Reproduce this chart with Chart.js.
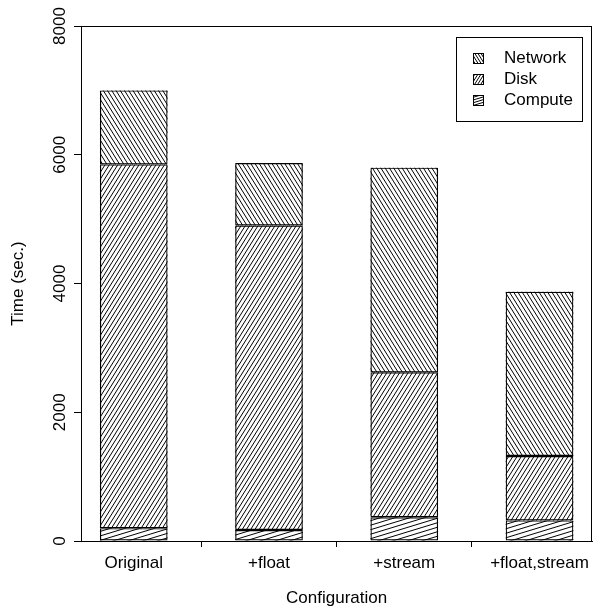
<!DOCTYPE html>
<html><head><meta charset="utf-8">
<script src="https://cdn.jsdelivr.net/npm/chart.js@4"></script>
<style>html,body{margin:0;padding:0;background:#fff}#wrap{width:595px;height:612px}</style>
</head><body><div id="wrap"><canvas id="c" width="595" height="612"></canvas></div>
<script>
// ---- data ----
const categories = ['Original', '+float', '+stream', '+float,stream'];
const compute = [200, 170, 370, 320];
const disk = [5650, 4730, 2250, 1000];
const network = [1150, 970, 3180, 2550];
const yTicks = [0, 2000, 4000, 6000, 8000];
const seriesNames = ['Compute', 'Disk', 'Network'];

// ---- styles ----
const FONT = { family: '"Liberation Sans", Arial, Helvetica, sans-serif', size: 17 };
const hatchStyles = [
  { angle: 17, spacing: 4.3 },   // Compute
  { angle: 58, spacing: 3.6 },   // Disk
  { angle: 122, spacing: 3.6 }   // Network
];

function hatchRect(ctx, x0, y0, x1, y1, angleDeg, spacing) {
  const a = angleDeg * Math.PI / 180;
  const dx = Math.cos(a), dy = -Math.sin(a);
  const nx = -dy, ny = dx;
  const corners = [[x0, y0], [x1, y0], [x0, y1], [x1, y1]];
  let pmin = Infinity, pmax = -Infinity;
  for (const [x, y] of corners) { const p = x * nx + y * ny; pmin = Math.min(pmin, p); pmax = Math.max(pmax, p); }
  const L = Math.hypot(x1 - x0, y1 - y0) + 10;
  const cx = (x0 + x1) / 2, cy = (y0 + y1) / 2, pc = cx * nx + cy * ny;
  ctx.save();
  ctx.beginPath(); ctx.rect(x0, y0, x1 - x0, y1 - y0); ctx.clip();
  ctx.beginPath();
  for (let p = Math.ceil(pmin / spacing) * spacing; p <= pmax; p += spacing) {
    const px = cx + (p - pc) * nx, py = cy + (p - pc) * ny;
    ctx.moveTo(px - dx * L, py - dy * L);
    ctx.lineTo(px + dx * L, py + dy * L);
  }
  ctx.strokeStyle = '#000'; ctx.lineWidth = 1;
  ctx.stroke();
  ctx.restore();
}

const hatchPlugin = {
  id: 'hatch',
  beforeDatasetsDraw(chart) {
    const ctx = chart.ctx;
    chart.data.datasets.forEach((ds, di) => {
      const meta = chart.getDatasetMeta(di);
      meta.data.forEach(el => {
        const p = el.getProps(['x', 'y', 'base', 'width'], true);
        const x0 = p.x - p.width / 2, x1 = p.x + p.width / 2;
        const y0 = Math.min(p.y, p.base), y1 = Math.max(p.y, p.base);
        hatchRect(ctx, x0, y0, x1, y1, ds.hatch.angle, ds.hatch.spacing);
      });
    });
  },
  afterDraw(chart) {
    const ctx = chart.ctx, a = chart.chartArea;
    ctx.save();
    ctx.strokeStyle = '#000'; ctx.lineWidth = 1;
    ctx.strokeRect(Math.round(a.left) + 0.5, Math.round(a.top) + 0.5,
                   Math.round(a.right - a.left) - 1, Math.round(a.bottom - a.top));
    // legend
    const bx = Math.round(a.right) - 136, by = Math.round(a.top) + 11, bw = 126, bh = 84;
    ctx.strokeRect(bx + 0.5, by + 0.5, bw, bh);
    ctx.font = FONT.size + 'px ' + FONT.family;
    ctx.fillStyle = '#000';
    ctx.textBaseline = 'middle';
    ctx.textAlign = 'left';
    const items = chart.data.datasets.slice().reverse();
    items.forEach((ds, i) => {
      const cy = by + 21 + i * 21;
      const sx = bx + 17, sy = cy - 5;
      hatchRect(ctx, sx, sy, sx + 10, sy + 10, ds.hatch.angle, 2.6);
      ctx.strokeRect(sx + 0.5, sy + 0.5, 10, 10);
      ctx.fillText(ds.label, bx + 48, cy);
    });
    ctx.restore();
  }
};

const seriesData = [compute, disk, network];
const chart = new Chart(document.getElementById('c'), {
  type: 'bar',
  data: {
    datasets: seriesData.map((arr, si) => ({
      label: seriesNames[si],
      data: arr.map((v, i) => ({ x: i, y: v })),
      hatch: hatchStyles[si],
      backgroundColor: 'rgba(0,0,0,0)',
      borderColor: '#000',
      borderWidth: 1.2,
      borderSkipped: false,
      categoryPercentage: 0.5,
      barPercentage: 1
    }))
  },
  options: {
    responsive: false,
    animation: false,
    devicePixelRatio: 1,
    layout: { padding: { top: 26, right: 1, left: 0, bottom: 0 } },
    plugins: { colors: { enabled: false }, legend: { display: false }, tooltip: { enabled: false } },
    scales: {
      x: {
        type: 'linear', stacked: true, min: -0.39, max: 3.39, offset: false,
        afterBuildTicks: s => { s.ticks = categories.map((_, i) => ({ value: i })); },
        afterFit: s => { s.height = 71; },
        ticks: { callback: v => categories[v], autoSkip: false, maxRotation: 0, minRotation: 0,
          color: '#000', font: FONT, padding: 6 },
        grid: { display: true, drawOnChartArea: false, drawTicks: true, tickLength: 6, color: '#000' },
        border: { display: true, color: '#000' },
        title: { display: true, text: 'Configuration', color: '#000', font: FONT, padding: { top: 0, bottom: 3 } }
      },
      y: {
        stacked: true, min: 0, max: 8000,
        afterBuildTicks: s => { s.ticks = yTicks.map(v => ({ value: v })); },
        afterFit: s => { s.width = 81; },
        ticks: { callback: v => String(v), minRotation: 90, maxRotation: 90, crossAlign: 'center',
          padding: -5, color: '#000', font: FONT },
        grid: { display: true, drawOnChartArea: false, drawTicks: true, tickLength: 7, color: '#000' },
        border: { display: true, color: '#000' },
        title: { display: true, text: 'Time (sec.)', color: '#000', font: FONT, padding: { top: 8, bottom: 0 } }
      }
    }
  },
  plugins: [hatchPlugin]
});
</script>
</body></html>
